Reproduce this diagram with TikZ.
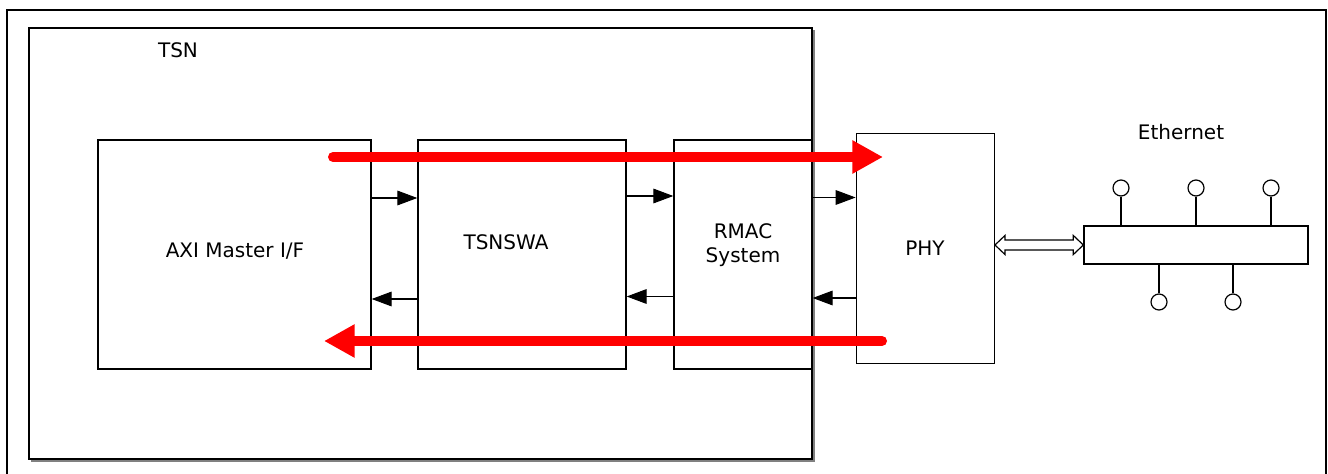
\documentclass[tikz,border=0pt]{standalone}
\usepackage{fontspec}
\setmainfont{DejaVu Sans}
\usetikzlibrary{arrows.meta,calc}
\begin{document}
\begin{tikzpicture}[x=0.75pt,y=-0.75pt,
  box/.style={draw, line width=1pt, inner sep=0pt},
  lbl/.style={font=\fontsize{15}{18.5}\selectfont, inner sep=0pt, align=center},
  sarrow/.style={-{Triangle[length=15pt,width=11pt]}, line width=0.8pt},
  redarrow/.style={draw=red, line width=7.5pt, line cap=round, -{Triangle[length=23pt,width=23.5pt,fill=red]}},
  port/.style={circle, draw, line width=0.9pt, minimum size=12pt, inner sep=0pt},
  stem/.style={line width=0.9pt}]
\useasboundingbox (0,0) rectangle (1328,474);
% outer frame
\draw[line width=1.6pt] (7,476) -- (7,10) -- (1326,10) -- (1326,476);
% TSN box with faint shadow
\draw[gray, line width=1pt] (31,461) -- (814,461) -- (814,30);
\node[box, minimum width=587.25pt, minimum height=323.25pt] (tsn) at (420.5,243.5) {};
\node[lbl] (tsnl) at (178,50) {TSN};
% inner blocks
\node[box, minimum width=204.75pt, minimum height=171.75pt] (axi) at (234.5,254.5) {};
\node[box, minimum width=156pt, minimum height=171.75pt] (tsw) at (522,254.5) {};
\node[box, minimum width=103.5pt, minimum height=171.75pt] (rmac) at (743,254.5) {};
\node[box, fill=white, minimum width=103.5pt, minimum height=172.2pt] (phy) at (925.3,248.5) {};
\node[box, minimum width=168pt, minimum height=28.5pt] (bus) at (1196,245) {};
% labels
\node[lbl] (axil) at (235,251) {AXI Master I/F};
\node[lbl] (tswl) at (506,242) {TSNSWA};
\node[lbl] (rmacl) at (743,245) {RMAC\\System};
\node[lbl] (phyl) at (925,248) {PHY};
\node[lbl] (ethl) at (1181,132) {Ethernet};
% small arrows
\coordinate (ya) at (0,198);
\coordinate (yb) at (0,299);
\coordinate (yc) at (0,196);
\coordinate (yd) at (0,296.5);
\coordinate (ye) at (0,197.5);
\coordinate (yf) at (0,298);
\draw[sarrow] (axi.east |- ya) -- (tsw.west |- ya);
\draw[sarrow] (tsw.west |- yb) -- (axi.east |- yb);
\draw[sarrow] (tsw.east |- yc) -- (rmac.west |- yc);
\draw[sarrow] (rmac.west |- yd) -- (tsw.east |- yd);
\draw[sarrow] (rmac.east |- ye) -- (phy.west |- ye);
\draw[sarrow] (phy.west |- yf) -- (rmac.east |- yf);
% red flow arrows
\coordinate (r1s) at (333,157);
\coordinate (r1e) at (883,157);
\coordinate (r2s) at (882,341);
\coordinate (r2e) at (324,341);
\draw[redarrow] (r1s) -- (r1e);
\draw[redarrow] (r2s) -- (r2e);
% hollow double arrow PHY <-> Ethernet
\coordinate (dl) at (phy.east |- bus.west);
\coordinate (dr) at (bus.west);
\draw[line width=0.9pt, fill=white] (dl) -- ++(10,-9.5) -- ++(0,4.5) -- ($(dr)+(-10,-5)$) -- ++(0,-4.5) -- (dr) -- ++(-10,9.5) -- ++(0,-4.5) -- ($(dl)+(10,5)$) -- ++(0,4.5) -- cycle;
% ethernet ports
\node[port] (p1) at (1121,188) {};
\node[port] (p2) at (1196,188) {};
\node[port] (p3) at (1271,188) {};
\node[port] (p4) at (1159,302) {};
\node[port] (p5) at (1233,302) {};
\draw[stem] (p1) -- (p1 |- bus.north);
\draw[stem] (p2) -- (p2 |- bus.north);
\draw[stem] (p3) -- (p3 |- bus.north);
\draw[stem] (p4) -- (p4 |- bus.south);
\draw[stem] (p5) -- (p5 |- bus.south);
\end{tikzpicture}
\end{document}
